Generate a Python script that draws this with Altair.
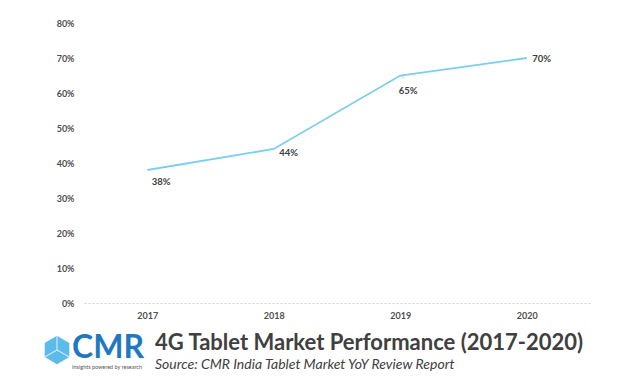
import altair as alt
import pandas as pd

years = ["2017", "2018", "2019", "2020"]
share = [0.38, 0.44, 0.65, 0.70]
labels = ["38%", "44%", "65%", "70%"]
y_ticks = [0, 0.1, 0.2, 0.3, 0.4, 0.5, 0.6, 0.7, 0.8]

title_text = "4G Tablet Market Performance (2017-2020)"
subtitle_text = "Source: CMR India Tablet Market YoY Review Report"
logo_text = "CMR"
logo_tag = "Insights powered by research"

df = pd.DataFrame({"year": years, "share": share, "label": labels})

FONT = "Lato"
x_enc = alt.X("year:N", scale=alt.Scale(type="point", padding=0.5),
              axis=alt.Axis(title=None, labelAngle=0, ticks=False, domain=True,
                            domainColor="#d0d0d0", domainDash=[2, 2], domainWidth=1,
                            labelFont=FONT, labelFontWeight="bold", labelFontSize=9,
                            labelColor="#505050", labelPadding=8))
y_enc = alt.Y("share:Q", scale=alt.Scale(domain=[0, 0.8], nice=False),
              axis=alt.Axis(title=None, format=".0%", values=y_ticks, grid=False,
                            ticks=False, domain=False, labelFont=FONT,
                            labelFontWeight="bold", labelFontSize=9,
                            labelColor="#505050", labelPadding=10,
                            labelOverlap=False, tickCount=9))

base = alt.Chart(df)
line = base.mark_line(color="#7dcdf0", strokeWidth=1.8).encode(x=x_enc, y=y_enc)

offsets = {"2017": (14, 12), "2018": (15, 4), "2019": (8, 15), "2020": (15, 1)}
label_layers = []
for yr, (dx, dy) in offsets.items():
    label_layers.append(
        base.transform_filter(alt.datum.year == yr)
        .mark_text(font=FONT, fontWeight="bold", fontSize=9.5, color="#404040",
                   dx=dx, dy=dy, align="center", baseline="middle")
        .encode(x=x_enc, y=y_enc, text="label:N")
    )

leader = base.transform_filter(alt.datum.year == "2019").mark_point(
    shape="M0,0L1,0.6", size=90, stroke="#bfbfbf", strokeWidth=1, filled=False
).encode(x=x_enc, y=y_enc)

one = lambda v: alt.Data(values=[{"t": v}])

title = alt.Chart(one(title_text)).mark_text(
    font=FONT, fontWeight="bold", fontSize=22, color="#404040",
    align="left", baseline="alphabetic").encode(
    text="t:N", x=alt.value(71), y=alt.value(327))
subtitle = alt.Chart(one(subtitle_text)).mark_text(
    font=FONT, fontStyle="italic", fontSize=14, color="#404040",
    align="left", baseline="alphabetic").encode(
    text="t:N", x=alt.value(71), y=alt.value(346))
logo = alt.Chart(one(logo_text)).mark_text(
    font=FONT, fontWeight="bold", fontSize=32, color="#1f78c1",
    align="left", baseline="alphabetic").encode(
    text="t:N", x=alt.value(-12), y=alt.value(335))
tag = alt.Chart(one(logo_tag)).mark_text(
    font=FONT, fontSize=5.5, color="#555555",
    align="left", baseline="alphabetic").encode(
    text="t:N", x=alt.value(-12), y=alt.value(346))
cube = alt.Chart(one("cube")).mark_point(
    shape="M0,-1L0.87,-0.5L0.87,0.5L0,1L-0.87,0.5L-0.87,-0.5Z",
    size=800, filled=True, color="#5bbbea", opacity=1).encode(
    x=alt.value(-27), y=alt.value(327))
cube_in = alt.Chart(one("cube")).mark_point(
    shape="M0,-1L0,0M0,0L0.87,0.5M0,0L-0.87,0.5",
    size=800, filled=False, stroke="#ffffff", strokeWidth=1.2).encode(
    x=alt.value(-27), y=alt.value(327))

chart = alt.layer(line, *label_layers, leader, title, subtitle, cube, cube_in, logo, tag).properties(
    width=506, height=280,
    padding={"left": 84, "top": 23, "right": 34, "bottom": 74},
    autosize=alt.AutoSizeParams(type="none"),
    background="white",
).configure_view(stroke=None)

chart.save("out.html", embed_options={"renderer": "svg", "actions": False})
